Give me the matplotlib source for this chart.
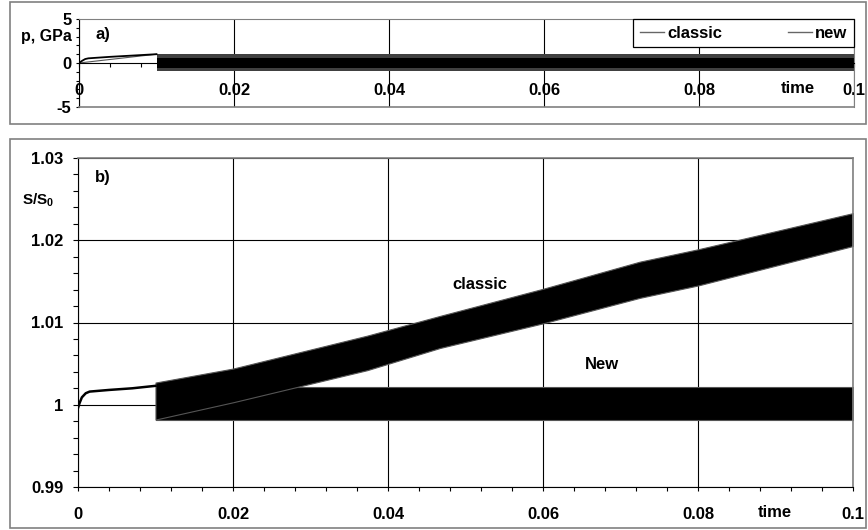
#!/usr/bin/env python3

import matplotlib
matplotlib.use("Agg")
import matplotlib.pyplot as plt
from matplotlib.patches import Rectangle
from matplotlib.ticker import MultipleLocator

################################################################################
# Data
################################################################################

# x axis
time_ticks = [0, 0.02, 0.04, 0.06, 0.08, 0.1]
time_labels = ["0", "0.02", "0.04", "0.06", "0.08", "0.1"]

# a) pressure: loading ramp, then dense oscillation band (both methods overlap)
p_ramp_time = [0, 0.0004, 0.0008, 0.0012, 0.002, 0.004, 0.007, 0.01]
p_ramp = [0, 0.25, 0.45, 0.53, 0.58, 0.7, 0.85, 1.0]
p_line_time = [0, 0.01]
p_line = [0, 1.0]
p_band_time = [0.01, 0.1]
p_band_outer_lo = [-0.95, -0.95]
p_band_outer_hi = [1.0, 1.0]
p_band_core_lo = [-0.55, -0.55]
p_band_core_hi = [0.6, 0.6]

# b) relative area S/S0
s_ramp_time = [0, 0.0002, 0.0005, 0.001, 0.0015, 0.004, 0.007, 0.01]
s_ramp = [0.9996, 1.0002, 1.0009, 1.0014, 1.0016, 1.0018, 1.0020, 1.0023]

new_time = [0.01, 0.1]
new_lo = [0.9982, 0.9982]
new_hi = [1.0022, 1.0022]

classic_time = [0.01, 0.02, 0.0373, 0.0467, 0.06, 0.0725, 0.08, 0.1]
classic_lo = [0.9982, 1.0003, 1.0042, 1.0069, 1.0099, 1.0130, 1.0145, 1.0193]
classic_hi = [1.0027, 1.0044, 1.0084, 1.0108, 1.0141, 1.0174, 1.0189, 1.0233]

################################################################################
# Helpers
################################################################################

W, H = 868, 530
GRAY = "#808080"
FS = 12


def px(x, y):
    """pixel position (from top-left) -> figure fraction"""
    return x / W, 1 - y / H


def main():
    plt.rcParams["font.family"] = ["Liberation Sans", "DejaVu Sans"]
    plt.rcParams["font.weight"] = "bold"
    plt.rcParams["axes.unicode_minus"] = False
    plt.rcParams["mathtext.fontset"] = "custom"
    plt.rcParams["mathtext.bf"] = "Liberation Sans:bold"
    plt.rcParams["mathtext.rm"] = "Liberation Sans:bold"

    fig = plt.figure(figsize=(W / 100, H / 100), dpi=100)

    # outer chart frames
    for (x0, y0, x1, y1) in [(10, 2, 866, 124), (10, 139, 866, 528)]:
        fx, fy = px(x0, y1)
        fig.patches.append(Rectangle((fx, fy), (x1 - x0) / W, (y1 - y0) / H,
                                     transform=fig.transFigure, fill=False,
                                     edgecolor=GRAY, linewidth=1.2))

    ########################################################################
    # a) pressure
    ########################################################################
    l, b = px(79, 107)
    ax1 = fig.add_axes([l, b, 775 / W, 88 / H])
    ax1.set_xlim(0, 0.1)
    ax1.set_ylim(-5, 5)
    ax1.set_axisbelow(True)

    ax1.fill_between(p_band_time, p_band_outer_lo, p_band_outer_hi,
                     color="#404040", linewidth=0, zorder=2)
    ax1.fill_between(p_band_time, p_band_core_lo, p_band_core_hi,
                     color="black", linewidth=0, zorder=2)
    ax1.plot(p_line_time, p_line, color="#555555", lw=0.8, zorder=2)
    ax1.plot(p_ramp_time, p_ramp, color="black", lw=1.3, zorder=2)

    # legend handles only
    ax1.plot([], [], color="#666666", lw=1, label="classic")
    ax1.plot([], [], color="#666666", lw=1, label="new")
    leg = ax1.legend(loc="upper right", bbox_to_anchor=(1, 1), ncol=2,
                     borderaxespad=0, fontsize=FS, handlelength=1.45,
                     handletextpad=0.2, columnspacing=3.9, borderpad=0.4,
                     fancybox=False, framealpha=1)
    leg.get_frame().set_edgecolor("black")
    leg.get_frame().set_linewidth(0.9)

    ax1.spines["bottom"].set_position(("data", 0))
    ax1.spines["bottom"].set_color("black")
    ax1.spines["left"].set_color("black")
    for s in ("top", "right"):
        ax1.spines[s].set_color(GRAY)
    ax1.axhline(-5, color=GRAY, lw=1.2, clip_on=False, zorder=3)

    ax1.set_xticks(time_ticks)
    ax1.set_xticklabels(time_labels)
    ax1.xaxis.set_minor_locator(MultipleLocator(0.004))
    ax1.set_yticks([-5, 0, 5])
    ax1.yaxis.set_minor_locator(MultipleLocator(1))
    ax1.tick_params(axis="x", which="both", direction="out", length=3,
                    width=0.8, pad=11.5, labelsize=FS)
    ax1.tick_params(axis="y", which="both", direction="out", length=2.5,
                    width=0.8, pad=3, labelsize=FS)
    ax1.grid(True, which="major", axis="x", color="black", lw=0.8)

    ax1.text(0.0928, -2.85, "time", fontsize=FS, ha="center", va="center")
    fig.text(*px(72, 37), "p, GPa", fontsize=FS - 0.5, ha="right",
             va="center")
    fig.text(*px(95, 34), "a)", fontsize=FS, ha="left", va="center")

    ########################################################################
    # b) S/S0
    ########################################################################
    l, b = px(78, 487)
    ax2 = fig.add_axes([l, b, 775 / W, 329 / H])
    ax2.set_xlim(0, 0.1)
    ax2.set_ylim(0.99, 1.03)
    ax2.set_axisbelow(True)

    ax2.fill_between(new_time, new_lo, new_hi, color="black", linewidth=0.8,
                     edgecolor="#555555", zorder=2)
    ax2.fill_between(classic_time, classic_lo, classic_hi, color="black",
                     linewidth=0.8, edgecolor="#555555", zorder=2)
    ax2.plot(s_ramp_time, s_ramp, color="black", lw=1.8, zorder=2)

    for s in ("left", "bottom"):
        ax2.spines[s].set_color("black")
    for s in ("top", "right"):
        ax2.spines[s].set_color(GRAY)
        ax2.spines[s].set_linewidth(1.2)

    ax2.set_xticks(time_ticks)
    ax2.set_xticklabels(time_labels)
    ax2.xaxis.set_minor_locator(MultipleLocator(0.004))
    ax2.set_yticks([0.99, 1.0, 1.01, 1.02, 1.03])
    ax2.set_yticklabels(["0.99", "1", "1.01", "1.02", "1.03"])
    ax2.yaxis.set_minor_locator(MultipleLocator(0.002))
    ax2.tick_params(axis="x", which="both", direction="out", length=3,
                    width=0.8, pad=11.5, labelsize=FS)
    ax2.tick_params(axis="y", which="both", direction="out", length=3.5,
                    width=0.8, pad=7, labelsize=FS)
    ax2.grid(True, which="major", color="black", lw=0.8)

    ax2.text(0.0899, -0.079, "time", fontsize=FS, ha="center", va="center",
             transform=ax2.get_xaxis_transform())
    ax2.text(0.0518, 1.0146, "classic", fontsize=FS, ha="center", va="center")
    ax2.text(0.0676, 1.0049, "New", fontsize=FS, ha="center", va="center")
    fig.text(*px(22, 200), r"$\mathbf{S/S_0}$", fontsize=FS - 1, ha="left",
             va="center")
    fig.text(*px(95, 178), "b)", fontsize=FS, ha="left", va="center")

    fig.savefig("out.png", dpi=100)


if __name__ == "__main__":
    main()
